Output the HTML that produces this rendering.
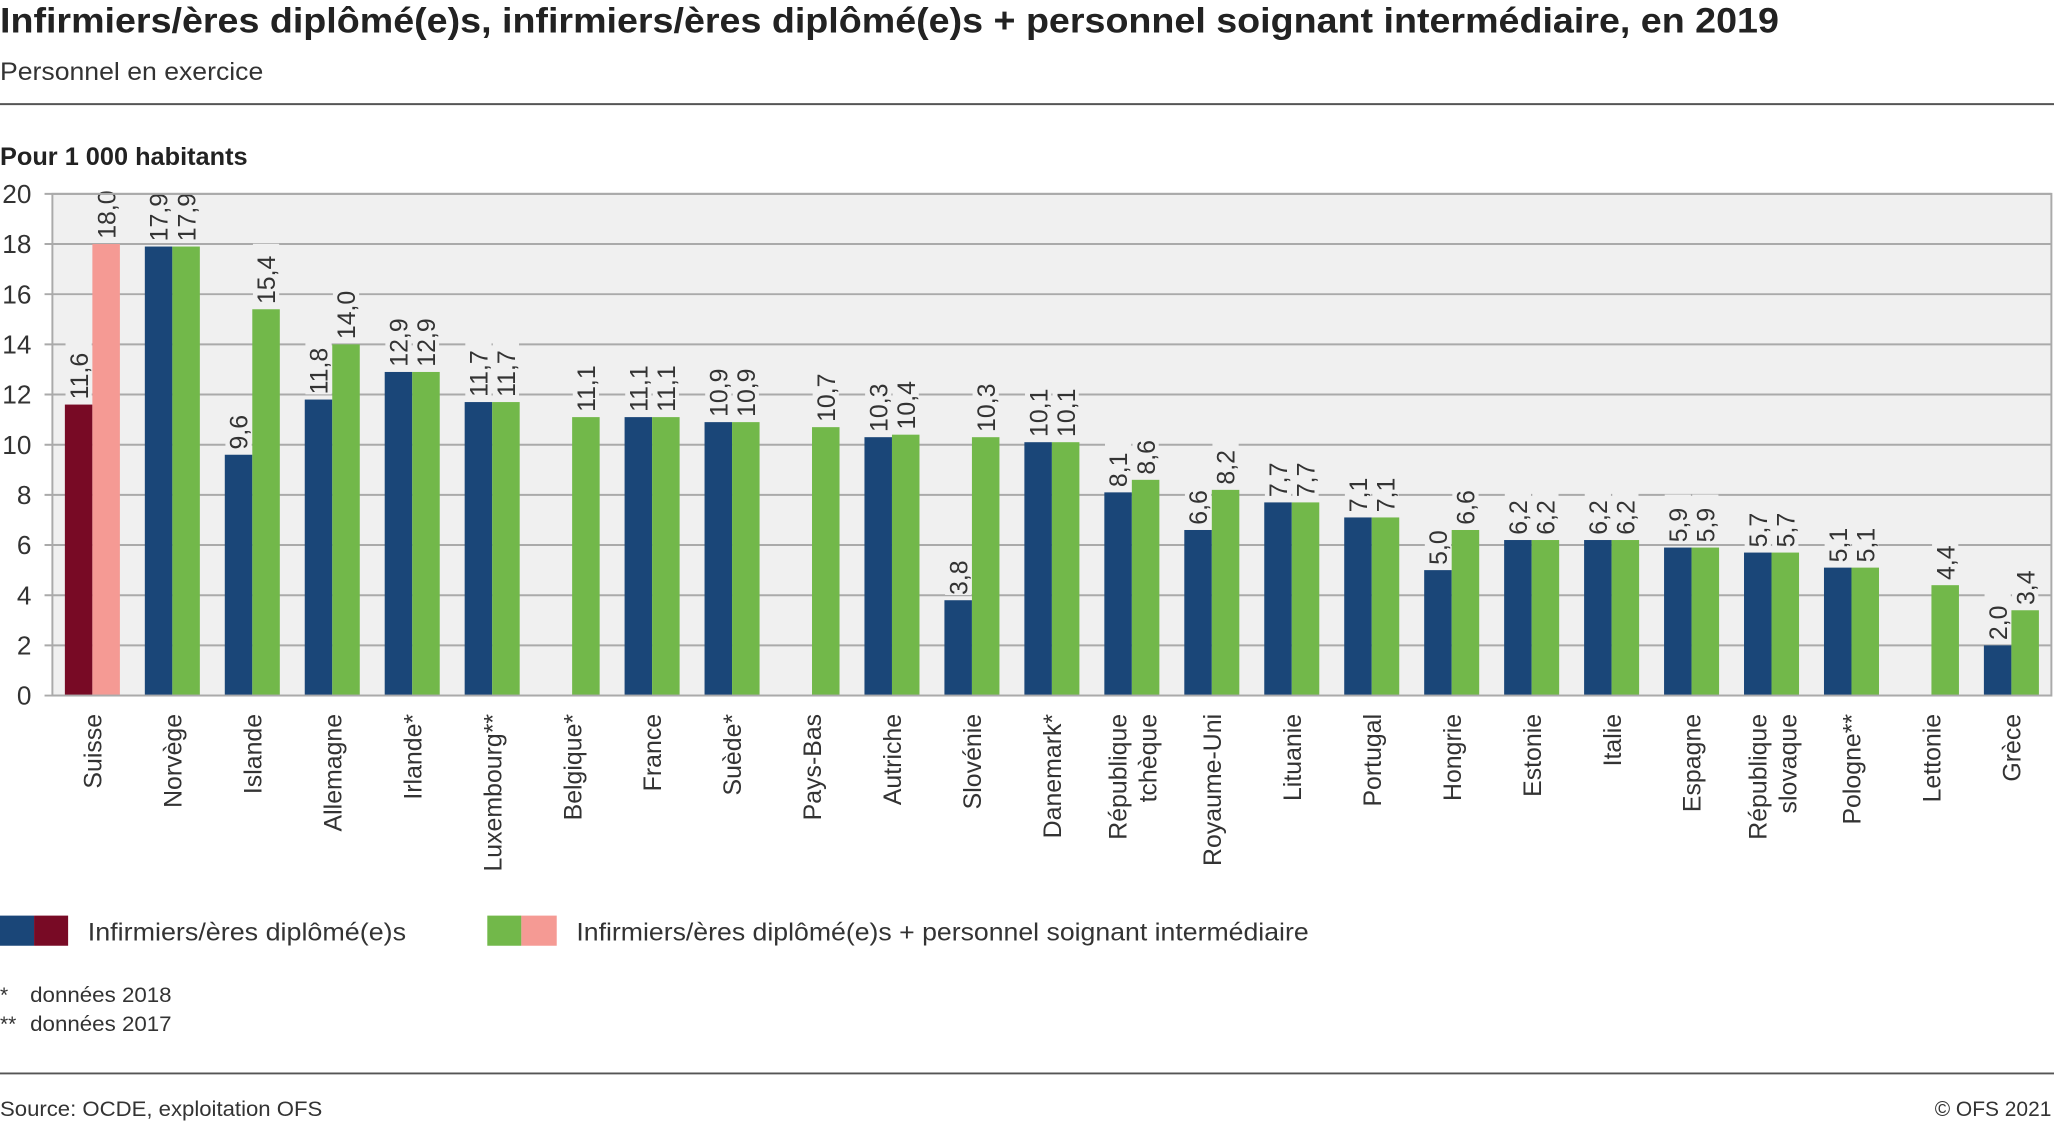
<!DOCTYPE html>
<html><head><meta charset="utf-8">
<style>
html,body{margin:0;padding:0;background:#fff;}
svg{display:block;font-family:"Liberation Sans",sans-serif;}
</style></head>
<body>
<svg id="chart" width="2054" height="1121" viewBox="0 0 1568 855.8" preserveAspectRatio="none" xmlns="http://www.w3.org/2000/svg">
<text x="0" y="25" font-size="27" font-weight="bold" fill="#222" textLength="1358" lengthAdjust="spacingAndGlyphs">Infirmiers/ères diplômé(e)s, infirmiers/ères diplômé(e)s + personnel soignant intermédiaire, en 2019</text>
<text x="0" y="61" font-size="19" fill="#333" textLength="201" lengthAdjust="spacingAndGlyphs">Personnel en exercice</text>
<line x1="0" y1="79.5" x2="1568" y2="79.5" stroke="#555" stroke-width="1.5"/>
<text x="0" y="126" font-size="19" font-weight="bold" fill="#222" textLength="189" lengthAdjust="spacingAndGlyphs">Pour 1 000 habitants</text>
<g id="plot"></g>
<g>
 <rect x="0" y="699" width="26" height="23" fill="#1a4678"/>
 <rect x="26" y="699" width="26" height="23" fill="#780a25"/>
 <text x="67" y="718" font-size="19" fill="#333" textLength="243" lengthAdjust="spacingAndGlyphs">Infirmiers/ères diplômé(e)s</text>
 <rect x="372" y="699" width="26" height="23" fill="#72b84a"/>
 <rect x="398" y="699" width="27" height="23" fill="#f59a94"/>
 <text x="440" y="718" font-size="19" fill="#333" textLength="559" lengthAdjust="spacingAndGlyphs">Infirmiers/ères diplômé(e)s + personnel soignant intermédiaire</text>
</g>
<text x="0" y="765" font-size="16" fill="#333">*</text>
<text x="23" y="765" font-size="16" fill="#333" textLength="108" lengthAdjust="spacingAndGlyphs">données 2018</text>
<text x="0" y="787" font-size="16" fill="#333">**</text>
<text x="23" y="787" font-size="16" fill="#333" textLength="108" lengthAdjust="spacingAndGlyphs">données 2017</text>
<line x1="0" y1="819.5" x2="1568" y2="819.5" stroke="#555" stroke-width="1.5"/>
<text x="0" y="852" font-size="16" fill="#333" textLength="246" lengthAdjust="spacingAndGlyphs">Source: OCDE, exploitation OFS</text>
<text x="1566" y="852" font-size="16" fill="#333" text-anchor="end">© OFS 2021</text>
</svg>
<script>
const categories = [["Suisse"],["Norvège"],["Islande"],["Allemagne"],["Irlande*"],["Luxembourg**"],["Belgique*"],["France"],["Suède*"],["Pays-Bas"],["Autriche"],["Slovénie"],["Danemark*"],["République","tchèque"],["Royaume-Uni"],["Lituanie"],["Portugal"],["Hongrie"],["Estonie"],["Italie"],["Espagne"],["République","slovaque"],["Pologne**"],["Lettonie"],["Grèce"]];
const nurses = [11.6,17.9,9.6,11.8,12.9,11.7,null,11.1,10.9,null,10.3,3.8,10.1,8.1,6.6,7.7,7.1,5.0,6.2,6.2,5.9,5.7,5.1,null,2.0];
const totals = [18.0,17.9,15.4,14.0,12.9,11.7,11.1,11.1,10.9,10.7,10.4,10.3,10.1,8.6,8.2,7.7,7.1,6.6,6.2,6.2,5.9,5.7,5.1,4.4,3.4];
const yTicks = [0,2,4,6,8,10,12,14,16,18,20];

const NS="http://www.w3.org/2000/svg";
const plot=document.getElementById('plot');
const L=40,R=1566,T=148,B=531,yMax=20;
const band=(R-L)/categories.length, bw=21;
const y=v=>B-(v/yMax)*(B-T);
const xc=i=>L+band*(i+0.5);
function mk(tag,attrs){const e=document.createElementNS(NS,tag);for(const k in attrs)e.setAttribute(k,attrs[k]);return e;}
const fmt=v=>v.toFixed(1).replace('.',',');

const bg=mk('rect',{x:L,y:T,width:R-L,height:B-T,fill:'#f0f0f0'});


plot.appendChild(bg);
yTicks.forEach(t=>{
  const g=mk('line',{x1:L-6,x2:R,y1:y(t),y2:y(t),stroke:'#aaa','stroke-width':1.5});
  
  
  plot.appendChild(g);
  const tx=mk('text',{x:24,y:y(t)+7,'font-size':20,fill:'#333','text-anchor':'end'});
  tx.textContent=t;
  
  
  plot.appendChild(tx);
});

function valLabel(cx,v){
  const yy=y(v)-4;
  const txt=fmt(v);
  const w=txt.length*9.5+8;
  const top=Math.max(yy-w,T+2);
  if(yy>top){
    const r=mk('rect',{x:cx-10,y:top,width:20,height:yy-top,fill:'#f0f0f0'});
    
    
    plot.appendChild(r);
  }
  const t=mk('text',{x:cx+7,y:yy,'font-size':19,fill:'#333',transform:`rotate(-90 ${cx+7} ${yy})`});
  t.textContent=txt;
  
  
  plot.appendChild(t);
}
const labels=[];
categories.forEach((c,i)=>{
  const cx=xc(i), ch=i===0;
  if(nurses[i]!==null){
    const b=mk('rect',{x:cx-bw,y:y(nurses[i]),width:bw,height:B-y(nurses[i]),fill:ch?'#780a25':'#1a4678'});
    
    
    plot.appendChild(b);
    labels.push([cx-bw/2,nurses[i]]);
  }
  const g=mk('rect',{x:cx,y:y(totals[i]),width:bw,height:B-y(totals[i]),fill:ch?'#f59a94':'#72b84a'});
  
  
  plot.appendChild(g);
  labels.push([cx+bw/2,totals[i]]);
  c.forEach((line,j)=>{
    const lx=cx+7+(c.length>1?(j===0?-11:12):0), ly=545;
    const t=mk('text',{x:lx,y:ly,'font-size':19,fill:'#333','text-anchor':'end',transform:`rotate(-90 ${lx} ${ly})`});
    t.textContent=line;
    
    
    plot.appendChild(t);
  });
});
labels.forEach(([cx,v])=>valLabel(cx,v));
const frame=mk('rect',{x:L,y:T,width:R-L,height:B-T,fill:'none',stroke:'#aaa','stroke-width':1.5});


plot.appendChild(frame);
</script>
</body></html>
